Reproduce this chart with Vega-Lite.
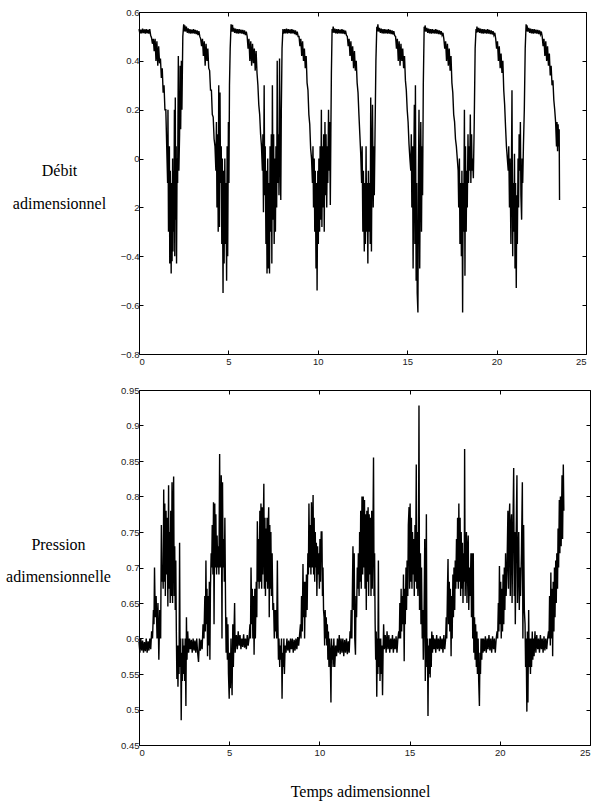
{
"$schema": "https://vega.github.io/schema/vega-lite/v6.json",
"background": "white",
"padding": {"left": 5, "top": 6, "right": 5, "bottom": 5},
"spacing": 18,
"config": {
  "view": {"stroke": "black", "strokeWidth": 1},
  "axis": {"grid": false, "domain": false, "tickColor": "black", "tickSize": -4, "labelFont": "Liberation Sans", "labelFontSize": 9.5, "labelColor": "#222", "titleFont": "Liberation Serif", "titleFontSize": 16, "titleFontWeight": "normal", "titleColor": "black"}
},
"datasets": {
"debit": [
{"t":0,"v":0.53},{"t":0.05,"v":0.512},{"t":0.1,"v":0.528},{"t":0.15,"v":0.513},{"t":0.2,"v":0.532},{"t":0.25,"v":0.514},{"t":0.3,"v":0.529},{"t":0.35,"v":0.512},{"t":0.4,"v":0.53},{"t":0.45,"v":0.513},{"t":0.5,"v":0.528},{"t":0.55,"v":0.512},{"t":0.6,"v":0.53},{"t":0.65,"v":0.505},
{"t":0.7,"v":0.495},{"t":0.75,"v":0.47},{"t":0.8,"v":0.49},{"t":0.85,"v":0.44},{"t":0.9,"v":0.49},{"t":0.95,"v":0.4},{"t":1.0,"v":0.48},{"t":1.05,"v":0.38},{"t":1.1,"v":0.46},{"t":1.15,"v":0.39},
{"t":1.2,"v":0.41},{"t":1.25,"v":0.33},{"t":1.3,"v":0.37},{"t":1.35,"v":0.27},{"t":1.4,"v":0.3},{"t":1.45,"v":0.2},{"t":1.5,"v":0.2},{"t":1.55,"v":0.05},
{"t":1.6,"v":-0.1},{"t":1.62,"v":0.2},{"t":1.65,"v":-0.3},{"t":1.7,"v":0.05},{"t":1.72,"v":-0.43},{"t":1.75,"v":-0.05},{"t":1.8,"v":-0.47},{"t":1.82,"v":-0.1},{"t":1.85,"v":-0.42},{"t":1.88,"v":0.0},{"t":1.9,"v":-0.38},{"t":1.93,"v":-0.05},{"t":1.95,"v":-0.3},{"t":1.98,"v":0.2},{"t":2.0,"v":-0.4},{"t":2.03,"v":0.25},{"t":2.05,"v":-0.25},{"t":2.08,"v":0.05},{"t":2.1,"v":-0.43},{"t":2.13,"v":0.0},{"t":2.16,"v":-0.1},{"t":2.2,"v":0.42},{"t":2.23,"v":-0.05},{"t":2.27,"v":0.1},{"t":2.3,"v":0.38},{"t":2.33,"v":0.12},{"t":2.37,"v":0.4},{"t":2.4,"v":0.2},{"t":2.45,"v":0.5},
{"t":2.5,"v":0.55},{"t":2.53,"v":0.52},{"t":2.56,"v":0.545},{"t":2.6,"v":0.52},{"t":2.65,"v":0.54},{"t":2.7,"v":0.515},{"t":2.75,"v":0.533},{"t":2.8,"v":0.513},{"t":2.85,"v":0.53},{"t":2.9,"v":0.512},{"t":2.95,"v":0.528},{"t":3.0,"v":0.513},{"t":3.05,"v":0.53},{"t":3.1,"v":0.512},{"t":3.15,"v":0.527},{"t":3.2,"v":0.51},{"t":3.25,"v":0.525},{"t":3.3,"v":0.505},{"t":3.35,"v":0.522},{"t":3.4,"v":0.5},
{"t":3.45,"v":0.49},{"t":3.5,"v":0.46},{"t":3.55,"v":0.49},{"t":3.6,"v":0.42},{"t":3.65,"v":0.48},{"t":3.7,"v":0.38},{"t":3.75,"v":0.47},{"t":3.8,"v":0.4},{"t":3.85,"v":0.45},{"t":3.9,"v":0.37},{"t":3.95,"v":0.36},{"t":4.0,"v":0.28},{"t":4.05,"v":0.28},{"t":4.1,"v":0.18},{"t":4.15,"v":0.17},{"t":4.2,"v":0.08},{"t":4.25,"v":0.05},{"t":4.3,"v":-0.05},{"t":4.33,"v":0.15},{"t":4.36,"v":-0.2},{"t":4.4,"v":0.1},{"t":4.43,"v":-0.3},{"t":4.46,"v":0.3},{"t":4.5,"v":-0.28},{"t":4.53,"v":0.27},{"t":4.56,"v":-0.1},{"t":4.6,"v":0.05},{"t":4.63,"v":-0.35},{"t":4.66,"v":0.0},{"t":4.7,"v":-0.55},{"t":4.73,"v":-0.05},{"t":4.76,"v":-0.43},{"t":4.8,"v":0.0},{"t":4.83,"v":-0.35},{"t":4.86,"v":-0.1},{"t":4.9,"v":-0.5},{"t":4.93,"v":0.05},{"t":4.96,"v":-0.4},{"t":5.0,"v":0.15},{"t":5.03,"v":-0.1},{"t":5.06,"v":0.3},{"t":5.1,"v":0.45},
{"t":5.15,"v":0.55},{"t":5.2,"v":0.52},{"t":5.23,"v":0.548},{"t":5.26,"v":0.52},{"t":5.3,"v":0.535},{"t":5.35,"v":0.515},{"t":5.4,"v":0.532},{"t":5.45,"v":0.513},{"t":5.5,"v":0.53},{"t":5.55,"v":0.512},{"t":5.6,"v":0.53},{"t":5.65,"v":0.513},{"t":5.7,"v":0.528},{"t":5.75,"v":0.512},{"t":5.8,"v":0.527},{"t":5.85,"v":0.51},{"t":5.9,"v":0.525},{"t":5.95,"v":0.505},{"t":6.0,"v":0.52},
{"t":6.05,"v":0.5},{"t":6.1,"v":0.45},{"t":6.15,"v":0.49},{"t":6.2,"v":0.4},{"t":6.25,"v":0.48},{"t":6.3,"v":0.38},{"t":6.35,"v":0.47},{"t":6.4,"v":0.39},{"t":6.45,"v":0.45},{"t":6.5,"v":0.36},{"t":6.55,"v":0.44},{"t":6.6,"v":0.35},{"t":6.65,"v":0.3},{"t":6.7,"v":0.22},{"t":6.75,"v":0.18},{"t":6.8,"v":0.1},{"t":6.85,"v":0.05},{"t":6.9,"v":-0.05},{"t":6.93,"v":0.1},{"t":6.96,"v":-0.22},{"t":7.0,"v":0.3},{"t":7.03,"v":-0.15},{"t":7.06,"v":0.05},{"t":7.1,"v":-0.35},{"t":7.13,"v":-0.05},{"t":7.16,"v":-0.47},{"t":7.2,"v":0.0},{"t":7.23,"v":-0.45},{"t":7.26,"v":-0.1},{"t":7.3,"v":-0.47},{"t":7.33,"v":0.05},{"t":7.36,"v":-0.3},{"t":7.4,"v":0.1},{"t":7.43,"v":-0.43},{"t":7.46,"v":0.3},{"t":7.5,"v":-0.25},{"t":7.53,"v":0.1},{"t":7.56,"v":-0.35},{"t":7.6,"v":0.0},{"t":7.63,"v":-0.3},{"t":7.66,"v":0.05},{"t":7.7,"v":-0.2},{"t":7.73,"v":0.4},{"t":7.76,"v":-0.1},{"t":7.8,"v":0.1},{"t":7.83,"v":-0.15},{"t":7.86,"v":0.41},{"t":7.9,"v":0.0},{"t":7.93,"v":-0.17},{"t":7.96,"v":0.2},{"t":8.0,"v":0.45},
{"t":8.05,"v":0.53},{"t":8.1,"v":0.512},{"t":8.15,"v":0.53},{"t":8.2,"v":0.513},{"t":8.25,"v":0.532},{"t":8.3,"v":0.512},{"t":8.35,"v":0.53},{"t":8.4,"v":0.514},{"t":8.45,"v":0.529},{"t":8.5,"v":0.512},{"t":8.55,"v":0.53},{"t":8.6,"v":0.513},{"t":8.65,"v":0.527},{"t":8.7,"v":0.51},{"t":8.75,"v":0.525},{"t":8.8,"v":0.505},{"t":8.85,"v":0.52},{"t":8.9,"v":0.5},
{"t":8.95,"v":0.5},{"t":9.0,"v":0.46},{"t":9.05,"v":0.49},{"t":9.1,"v":0.42},{"t":9.15,"v":0.48},{"t":9.2,"v":0.4},{"t":9.25,"v":0.45},{"t":9.3,"v":0.37},{"t":9.35,"v":0.42},{"t":9.4,"v":0.31},{"t":9.45,"v":0.28},{"t":9.5,"v":0.18},{"t":9.55,"v":0.14},{"t":9.6,"v":0.04},{"t":9.65,"v":0.0},{"t":9.7,"v":-0.1},{"t":9.73,"v":0.05},{"t":9.76,"v":-0.2},{"t":9.8,"v":0.0},{"t":9.83,"v":-0.3},{"t":9.86,"v":-0.05},{"t":9.9,"v":-0.45},{"t":9.93,"v":-0.1},{"t":9.96,"v":-0.54},{"t":10.0,"v":-0.05},{"t":10.03,"v":-0.35},{"t":10.06,"v":0.0},{"t":10.1,"v":-0.3},{"t":10.13,"v":0.05},{"t":10.16,"v":-0.25},{"t":10.2,"v":0.2},{"t":10.23,"v":-0.28},{"t":10.26,"v":0.05},{"t":10.3,"v":-0.2},{"t":10.33,"v":0.1},{"t":10.36,"v":-0.3},{"t":10.4,"v":0.15},{"t":10.43,"v":-0.15},{"t":10.46,"v":0.1},{"t":10.5,"v":-0.2},{"t":10.53,"v":0.05},{"t":10.56,"v":-0.1},{"t":10.6,"v":0.2},{"t":10.63,"v":-0.05},{"t":10.66,"v":0.15},{"t":10.7,"v":-0.19},{"t":10.73,"v":0.1},{"t":10.76,"v":0.35},
{"t":10.8,"v":0.53},{"t":10.83,"v":0.515},{"t":10.86,"v":0.54},{"t":10.9,"v":0.515},{"t":10.95,"v":0.532},{"t":11.0,"v":0.513},{"t":11.05,"v":0.53},{"t":11.1,"v":0.512},{"t":11.15,"v":0.53},{"t":11.2,"v":0.513},{"t":11.25,"v":0.528},{"t":11.3,"v":0.512},{"t":11.35,"v":0.53},{"t":11.4,"v":0.512},{"t":11.45,"v":0.527},{"t":11.5,"v":0.51},{"t":11.55,"v":0.524},{"t":11.6,"v":0.505},
{"t":11.65,"v":0.5},{"t":11.7,"v":0.46},{"t":11.75,"v":0.49},{"t":11.8,"v":0.42},{"t":11.85,"v":0.48},{"t":11.9,"v":0.4},{"t":11.95,"v":0.46},{"t":12.0,"v":0.37},{"t":12.05,"v":0.44},{"t":12.1,"v":0.36},{"t":12.15,"v":0.4},{"t":12.2,"v":0.31},{"t":12.25,"v":0.27},{"t":12.3,"v":0.18},{"t":12.35,"v":0.1},{"t":12.4,"v":0.02},{"t":12.45,"v":-0.1},{"t":12.48,"v":0.05},{"t":12.52,"v":-0.3},{"t":12.55,"v":-0.05},{"t":12.6,"v":-0.38},{"t":12.63,"v":-0.1},{"t":12.66,"v":-0.35},{"t":12.7,"v":0.05},{"t":12.73,"v":-0.3},{"t":12.76,"v":-0.1},{"t":12.8,"v":-0.43},{"t":12.83,"v":-0.05},{"t":12.86,"v":-0.3},{"t":12.9,"v":-0.1},{"t":12.93,"v":-0.35},{"t":12.96,"v":0.25},{"t":13.0,"v":-0.38},{"t":13.03,"v":0.0},{"t":13.06,"v":0.22},{"t":13.1,"v":-0.2},{"t":13.13,"v":0.05},{"t":13.16,"v":-0.15},{"t":13.2,"v":0.1},{"t":13.25,"v":0.4},
{"t":13.3,"v":0.54},{"t":13.33,"v":0.52},{"t":13.36,"v":0.55},{"t":13.4,"v":0.52},{"t":13.45,"v":0.535},{"t":13.5,"v":0.515},{"t":13.55,"v":0.532},{"t":13.6,"v":0.513},{"t":13.65,"v":0.53},{"t":13.7,"v":0.512},{"t":13.75,"v":0.53},{"t":13.8,"v":0.513},{"t":13.85,"v":0.528},{"t":13.9,"v":0.512},{"t":13.95,"v":0.53},{"t":14.0,"v":0.512},{"t":14.05,"v":0.527},{"t":14.1,"v":0.51},{"t":14.15,"v":0.525},{"t":14.2,"v":0.508},{"t":14.25,"v":0.522},{"t":14.3,"v":0.503},
{"t":14.35,"v":0.5},{"t":14.4,"v":0.45},{"t":14.45,"v":0.49},{"t":14.5,"v":0.4},{"t":14.55,"v":0.48},{"t":14.6,"v":0.38},{"t":14.65,"v":0.47},{"t":14.7,"v":0.4},{"t":14.75,"v":0.45},{"t":14.8,"v":0.37},{"t":14.85,"v":0.42},{"t":14.9,"v":0.32},{"t":14.95,"v":0.28},{"t":15.0,"v":0.2},{"t":15.05,"v":0.15},{"t":15.1,"v":0.06},{"t":15.15,"v":0.0},{"t":15.2,"v":-0.05},{"t":15.23,"v":0.1},{"t":15.26,"v":-0.2},{"t":15.3,"v":0.05},{"t":15.33,"v":-0.45},{"t":15.36,"v":-0.1},{"t":15.4,"v":0.22},{"t":15.43,"v":-0.35},{"t":15.46,"v":0.3},{"t":15.5,"v":-0.5},{"t":15.53,"v":-0.1},{"t":15.56,"v":-0.55},{"t":15.6,"v":-0.63},{"t":15.63,"v":-0.05},{"t":15.66,"v":0.2},{"t":15.7,"v":-0.45},{"t":15.73,"v":-0.1},{"t":15.76,"v":0.15},{"t":15.8,"v":-0.3},{"t":15.83,"v":0.05},{"t":15.86,"v":-0.15},{"t":15.9,"v":0.3},
{"t":15.95,"v":0.54},{"t":15.98,"v":0.52},{"t":16.0,"v":0.545},{"t":16.05,"v":0.52},{"t":16.1,"v":0.535},{"t":16.15,"v":0.515},{"t":16.2,"v":0.532},{"t":16.25,"v":0.513},{"t":16.3,"v":0.53},{"t":16.35,"v":0.512},{"t":16.4,"v":0.53},{"t":16.45,"v":0.513},{"t":16.5,"v":0.528},{"t":16.55,"v":0.512},{"t":16.6,"v":0.53},{"t":16.65,"v":0.512},{"t":16.7,"v":0.527},{"t":16.75,"v":0.51},{"t":16.8,"v":0.525},{"t":16.85,"v":0.508},{"t":16.9,"v":0.522},{"t":16.95,"v":0.505},{"t":17.0,"v":0.515},
{"t":17.05,"v":0.49},{"t":17.1,"v":0.45},{"t":17.15,"v":0.48},{"t":17.2,"v":0.4},{"t":17.25,"v":0.47},{"t":17.3,"v":0.38},{"t":17.35,"v":0.45},{"t":17.4,"v":0.36},{"t":17.45,"v":0.42},{"t":17.5,"v":0.31},{"t":17.55,"v":0.27},{"t":17.6,"v":0.18},{"t":17.65,"v":0.15},{"t":17.7,"v":0.08},{"t":17.75,"v":0.05},{"t":17.8,"v":0.0},{"t":17.85,"v":-0.05},{"t":17.88,"v":-0.2},{"t":17.92,"v":0.0},{"t":17.95,"v":-0.35},{"t":18.0,"v":-0.1},{"t":18.03,"v":-0.4},{"t":18.06,"v":-0.05},{"t":18.1,"v":-0.63},{"t":18.13,"v":-0.1},{"t":18.16,"v":-0.3},{"t":18.2,"v":0.2},{"t":18.23,"v":-0.48},{"t":18.26,"v":0.05},{"t":18.3,"v":-0.3},{"t":18.33,"v":-0.05},{"t":18.36,"v":-0.2},{"t":18.4,"v":0.1},{"t":18.43,"v":-0.1},{"t":18.46,"v":0.05},{"t":18.5,"v":-0.05},{"t":18.53,"v":0.18},{"t":18.56,"v":-0.1},{"t":18.6,"v":0.1},{"t":18.63,"v":-0.05},{"t":18.66,"v":0.0},{"t":18.7,"v":-0.08},{"t":18.75,"v":0.15},{"t":18.8,"v":0.45},
{"t":18.85,"v":0.53},{"t":18.88,"v":0.515},{"t":18.9,"v":0.54},{"t":18.95,"v":0.518},{"t":19.0,"v":0.535},{"t":19.05,"v":0.515},{"t":19.1,"v":0.532},{"t":19.15,"v":0.513},{"t":19.2,"v":0.53},{"t":19.25,"v":0.512},{"t":19.3,"v":0.53},{"t":19.35,"v":0.513},{"t":19.4,"v":0.528},{"t":19.45,"v":0.512},{"t":19.5,"v":0.53},{"t":19.55,"v":0.512},{"t":19.6,"v":0.527},{"t":19.65,"v":0.51},{"t":19.7,"v":0.525},{"t":19.75,"v":0.508},{"t":19.8,"v":0.522},{"t":19.85,"v":0.505},{"t":19.9,"v":0.515},
{"t":19.95,"v":0.49},{"t":20.0,"v":0.45},{"t":20.05,"v":0.48},{"t":20.1,"v":0.4},{"t":20.15,"v":0.46},{"t":20.2,"v":0.37},{"t":20.25,"v":0.43},{"t":20.3,"v":0.35},{"t":20.35,"v":0.4},{"t":20.4,"v":0.28},{"t":20.45,"v":0.22},{"t":20.5,"v":0.13},{"t":20.55,"v":0.05},{"t":20.6,"v":0.0},{"t":20.65,"v":-0.05},{"t":20.68,"v":0.05},{"t":20.72,"v":-0.2},{"t":20.75,"v":0.0},{"t":20.8,"v":-0.35},{"t":20.83,"v":-0.05},{"t":20.86,"v":0.28},{"t":20.9,"v":-0.4},{"t":20.93,"v":-0.1},{"t":20.96,"v":-0.3},{"t":21.0,"v":0.02},{"t":21.03,"v":-0.45},{"t":21.06,"v":-0.1},{"t":21.1,"v":-0.53},{"t":21.13,"v":-0.15},{"t":21.16,"v":-0.35},{"t":21.2,"v":0.0},{"t":21.23,"v":-0.2},{"t":21.26,"v":0.1},{"t":21.3,"v":-0.05},{"t":21.33,"v":0.15},{"t":21.36,"v":-0.15},{"t":21.4,"v":-0.25},{"t":21.43,"v":0.0},{"t":21.46,"v":-0.1},{"t":21.5,"v":0.05},{"t":21.55,"v":0.2},{"t":21.6,"v":0.45},
{"t":21.65,"v":0.55},{"t":21.68,"v":0.52},{"t":21.7,"v":0.545},{"t":21.75,"v":0.52},{"t":21.8,"v":0.535},{"t":21.85,"v":0.515},{"t":21.9,"v":0.532},{"t":21.95,"v":0.513},{"t":22.0,"v":0.53},{"t":22.05,"v":0.512},{"t":22.1,"v":0.53},{"t":22.15,"v":0.513},{"t":22.2,"v":0.528},{"t":22.25,"v":0.512},{"t":22.3,"v":0.527},{"t":22.35,"v":0.51},{"t":22.4,"v":0.525},{"t":22.45,"v":0.508},{"t":22.5,"v":0.52},
{"t":22.55,"v":0.5},{"t":22.6,"v":0.46},{"t":22.65,"v":0.49},{"t":22.7,"v":0.42},{"t":22.75,"v":0.48},{"t":22.8,"v":0.4},{"t":22.85,"v":0.46},{"t":22.9,"v":0.38},{"t":22.95,"v":0.43},{"t":23.0,"v":0.34},{"t":23.05,"v":0.38},{"t":23.1,"v":0.3},{"t":23.15,"v":0.32},{"t":23.2,"v":0.24},{"t":23.25,"v":0.2},{"t":23.3,"v":0.15},{"t":23.35,"v":0.05},{"t":23.38,"v":0.15},{"t":23.41,"v":0.03},{"t":23.44,"v":0.14},{"t":23.47,"v":0.05},{"t":23.5,"v":0.12},{"t":23.52,"v":-0.17}
],
"pression": [
{"t":0,"v":0.595},{"t":0.05,"v":0.58},{"t":0.1,"v":0.6},{"t":0.15,"v":0.583},{"t":0.2,"v":0.597},{"t":0.25,"v":0.58},{"t":0.3,"v":0.595},{"t":0.35,"v":0.582},{"t":0.4,"v":0.6},{"t":0.45,"v":0.58},{"t":0.5,"v":0.596},{"t":0.55,"v":0.583},{"t":0.6,"v":0.6},{"t":0.65,"v":0.585},{"t":0.7,"v":0.61},{"t":0.75,"v":0.6},{"t":0.8,"v":0.64},{"t":0.83,"v":0.62},{"t":0.86,"v":0.7},{"t":0.9,"v":0.63},{"t":0.95,"v":0.66},{"t":1.0,"v":0.6},{"t":1.05,"v":0.65},{"t":1.1,"v":0.57},{"t":1.15,"v":0.64},{"t":1.2,"v":0.6},
{"t":1.24,"v":0.76},{"t":1.28,"v":0.68},{"t":1.31,"v":0.7},{"t":1.34,"v":0.67},{"t":1.37,"v":0.81},{"t":1.4,"v":0.68},{"t":1.43,"v":0.79},{"t":1.46,"v":0.66},{"t":1.5,"v":0.78},{"t":1.53,"v":0.69},{"t":1.56,"v":0.77},{"t":1.6,"v":0.645},{"t":1.64,"v":0.816},{"t":1.67,"v":0.67},{"t":1.7,"v":0.75},{"t":1.73,"v":0.65},{"t":1.76,"v":0.78},{"t":1.8,"v":0.66},{"t":1.83,"v":0.82},{"t":1.86,"v":0.65},{"t":1.89,"v":0.755},{"t":1.92,"v":0.828},{"t":1.95,"v":0.66},{"t":1.98,"v":0.73},{"t":2.01,"v":0.64},{"t":2.04,"v":0.71},{"t":2.07,"v":0.61},
{"t":2.1,"v":0.543},{"t":2.13,"v":0.59},{"t":2.16,"v":0.532},{"t":2.19,"v":0.59},{"t":2.22,"v":0.55},{"t":2.25,"v":0.735},{"t":2.28,"v":0.56},{"t":2.31,"v":0.6},{"t":2.34,"v":0.485},{"t":2.37,"v":0.58},{"t":2.4,"v":0.54},{"t":2.43,"v":0.6},{"t":2.46,"v":0.55},{"t":2.5,"v":0.59},{"t":2.53,"v":0.54},{"t":2.56,"v":0.6},{"t":2.6,"v":0.505},{"t":2.63,"v":0.63},{"t":2.66,"v":0.57},{"t":2.7,"v":0.61},
{"t":2.75,"v":0.58},{"t":2.8,"v":0.6},{"t":2.85,"v":0.585},{"t":2.9,"v":0.598},{"t":2.95,"v":0.58},{"t":3.0,"v":0.6},{"t":3.05,"v":0.583},{"t":3.1,"v":0.597},{"t":3.15,"v":0.58},{"t":3.2,"v":0.6},{"t":3.25,"v":0.58},{"t":3.3,"v":0.567},{"t":3.35,"v":0.6},{"t":3.4,"v":0.583},{"t":3.45,"v":0.598},{"t":3.5,"v":0.585},
{"t":3.55,"v":0.62},{"t":3.6,"v":0.6},{"t":3.65,"v":0.66},{"t":3.68,"v":0.61},{"t":3.71,"v":0.71},{"t":3.74,"v":0.62},{"t":3.77,"v":0.67},{"t":3.8,"v":0.575},{"t":3.83,"v":0.66},{"t":3.86,"v":0.59},{"t":3.9,"v":0.68},{"t":3.93,"v":0.57},{"t":3.96,"v":0.67},
{"t":4.0,"v":0.72},{"t":4.03,"v":0.7},{"t":4.06,"v":0.76},{"t":4.1,"v":0.69},{"t":4.13,"v":0.792},{"t":4.16,"v":0.62},{"t":4.2,"v":0.79},{"t":4.23,"v":0.7},{"t":4.26,"v":0.775},{"t":4.3,"v":0.69},{"t":4.33,"v":0.745},{"t":4.36,"v":0.7},{"t":4.4,"v":0.73},{"t":4.43,"v":0.69},{"t":4.47,"v":0.86},{"t":4.5,"v":0.7},{"t":4.53,"v":0.72},{"t":4.56,"v":0.83},{"t":4.6,"v":0.6},{"t":4.63,"v":0.82},{"t":4.66,"v":0.7},{"t":4.7,"v":0.74},{"t":4.73,"v":0.68},{"t":4.76,"v":0.77},
{"t":4.8,"v":0.64},{"t":4.83,"v":0.58},{"t":4.86,"v":0.63},{"t":4.9,"v":0.57},{"t":4.93,"v":0.62},{"t":4.96,"v":0.55},{"t":5.0,"v":0.515},{"t":5.03,"v":0.58},{"t":5.06,"v":0.53},{"t":5.1,"v":0.6},{"t":5.13,"v":0.55},{"t":5.16,"v":0.52},{"t":5.2,"v":0.62},{"t":5.23,"v":0.56},{"t":5.26,"v":0.6},{"t":5.3,"v":0.65},{"t":5.33,"v":0.58},
{"t":5.4,"v":0.605},{"t":5.45,"v":0.585},{"t":5.5,"v":0.61},{"t":5.55,"v":0.59},{"t":5.6,"v":0.605},{"t":5.65,"v":0.585},{"t":5.7,"v":0.6},{"t":5.75,"v":0.588},{"t":5.8,"v":0.606},{"t":5.85,"v":0.587},{"t":5.9,"v":0.6},{"t":5.95,"v":0.585},{"t":6.0,"v":0.605},{"t":6.05,"v":0.59},{"t":6.1,"v":0.6},
{"t":6.15,"v":0.62},{"t":6.18,"v":0.6},{"t":6.21,"v":0.7},{"t":6.25,"v":0.62},{"t":6.28,"v":0.67},{"t":6.31,"v":0.6},{"t":6.35,"v":0.66},{"t":6.38,"v":0.577},{"t":6.42,"v":0.67},{"t":6.45,"v":0.6},{"t":6.5,"v":0.68},{"t":6.53,"v":0.63},
{"t":6.56,"v":0.765},{"t":6.6,"v":0.68},{"t":6.63,"v":0.74},{"t":6.66,"v":0.67},{"t":6.7,"v":0.78},{"t":6.73,"v":0.68},{"t":6.76,"v":0.79},{"t":6.8,"v":0.67},{"t":6.83,"v":0.785},{"t":6.86,"v":0.69},{"t":6.92,"v":0.818},{"t":6.95,"v":0.67},{"t":6.98,"v":0.77},{"t":7.01,"v":0.66},{"t":7.04,"v":0.755},{"t":7.07,"v":0.68},{"t":7.1,"v":0.77},{"t":7.13,"v":0.67},{"t":7.16,"v":0.75},{"t":7.19,"v":0.785},{"t":7.22,"v":0.63},{"t":7.25,"v":0.76},{"t":7.28,"v":0.67},{"t":7.31,"v":0.75},{"t":7.34,"v":0.66},{"t":7.38,"v":0.72},{"t":7.42,"v":0.64},
{"t":7.46,"v":0.65},{"t":7.5,"v":0.6},{"t":7.53,"v":0.64},{"t":7.56,"v":0.61},{"t":7.6,"v":0.64},{"t":7.63,"v":0.6},{"t":7.67,"v":0.71},{"t":7.7,"v":0.62},{"t":7.73,"v":0.57},{"t":7.76,"v":0.6},{"t":7.8,"v":0.56},{"t":7.83,"v":0.59},{"t":7.86,"v":0.57},{"t":7.9,"v":0.6},{"t":7.93,"v":0.515},{"t":7.96,"v":0.58},{"t":8.0,"v":0.56},{"t":8.03,"v":0.6},{"t":8.06,"v":0.55},{"t":8.1,"v":0.59},
{"t":8.15,"v":0.58},{"t":8.2,"v":0.6},{"t":8.25,"v":0.583},{"t":8.3,"v":0.597},{"t":8.35,"v":0.58},{"t":8.4,"v":0.6},{"t":8.45,"v":0.585},{"t":8.5,"v":0.6},{"t":8.55,"v":0.58},{"t":8.6,"v":0.598},{"t":8.65,"v":0.583},{"t":8.7,"v":0.6},{"t":8.75,"v":0.585},{"t":8.8,"v":0.602},{"t":8.85,"v":0.59},{"t":8.9,"v":0.605},
{"t":8.95,"v":0.62},{"t":8.98,"v":0.6},{"t":9.01,"v":0.66},{"t":9.05,"v":0.61},{"t":9.09,"v":0.705},{"t":9.12,"v":0.63},{"t":9.15,"v":0.68},{"t":9.18,"v":0.6},{"t":9.22,"v":0.68},{"t":9.25,"v":0.63},{"t":9.28,"v":0.69},{"t":9.32,"v":0.64},
{"t":9.36,"v":0.72},{"t":9.39,"v":0.69},{"t":9.42,"v":0.79},{"t":9.46,"v":0.7},{"t":9.5,"v":0.76},{"t":9.53,"v":0.69},{"t":9.56,"v":0.792},{"t":9.6,"v":0.7},{"t":9.65,"v":0.802},{"t":9.68,"v":0.69},{"t":9.71,"v":0.77},{"t":9.74,"v":0.68},{"t":9.77,"v":0.75},{"t":9.8,"v":0.7},{"t":9.83,"v":0.735},{"t":9.86,"v":0.66},{"t":9.9,"v":0.73},{"t":9.93,"v":0.69},{"t":9.96,"v":0.72},{"t":10.0,"v":0.67},{"t":10.03,"v":0.74},{"t":10.06,"v":0.68},{"t":10.1,"v":0.75},{"t":10.14,"v":0.75},{"t":10.17,"v":0.66},{"t":10.2,"v":0.7},{"t":10.23,"v":0.64},
{"t":10.26,"v":0.63},{"t":10.29,"v":0.59},{"t":10.32,"v":0.64},{"t":10.35,"v":0.6},{"t":10.38,"v":0.63},{"t":10.41,"v":0.59},{"t":10.44,"v":0.62},{"t":10.47,"v":0.57},{"t":10.5,"v":0.61},{"t":10.53,"v":0.56},{"t":10.56,"v":0.6},{"t":10.6,"v":0.58},{"t":10.64,"v":0.51},{"t":10.67,"v":0.6},{"t":10.7,"v":0.57},{"t":10.73,"v":0.59},{"t":10.76,"v":0.56},{"t":10.8,"v":0.6},{"t":10.85,"v":0.56},
{"t":10.9,"v":0.59},{"t":10.95,"v":0.575},{"t":11.0,"v":0.6},{"t":11.05,"v":0.58},{"t":11.1,"v":0.605},{"t":11.15,"v":0.578},{"t":11.2,"v":0.6},{"t":11.25,"v":0.58},{"t":11.3,"v":0.6},{"t":11.35,"v":0.575},{"t":11.4,"v":0.598},{"t":11.45,"v":0.58},{"t":11.5,"v":0.6},{"t":11.55,"v":0.578},{"t":11.6,"v":0.596},{"t":11.65,"v":0.58},
{"t":11.7,"v":0.61},{"t":11.73,"v":0.6},{"t":11.76,"v":0.64},{"t":11.8,"v":0.6},{"t":11.83,"v":0.67},{"t":11.86,"v":0.73},{"t":11.9,"v":0.64},{"t":11.93,"v":0.72},{"t":11.96,"v":0.6},{"t":12.0,"v":0.577},{"t":12.03,"v":0.66},{"t":12.06,"v":0.63},{"t":12.1,"v":0.7},
{"t":12.13,"v":0.67},{"t":12.16,"v":0.72},{"t":12.2,"v":0.66},{"t":12.23,"v":0.75},{"t":12.26,"v":0.68},{"t":12.29,"v":0.78},{"t":12.32,"v":0.67},{"t":12.36,"v":0.8},{"t":12.4,"v":0.69},{"t":12.43,"v":0.8},{"t":12.46,"v":0.7},{"t":12.5,"v":0.795},{"t":12.53,"v":0.67},{"t":12.56,"v":0.775},{"t":12.6,"v":0.64},{"t":12.63,"v":0.78},{"t":12.66,"v":0.68},{"t":12.7,"v":0.785},{"t":12.73,"v":0.66},{"t":12.76,"v":0.775},{"t":12.8,"v":0.69},{"t":12.83,"v":0.77},{"t":12.86,"v":0.66},{"t":12.9,"v":0.78},{"t":12.93,"v":0.67},{"t":12.97,"v":0.75},{"t":13.0,"v":0.855},{"t":13.03,"v":0.66},{"t":13.06,"v":0.72},
{"t":13.09,"v":0.62},{"t":13.12,"v":0.57},{"t":13.15,"v":0.61},{"t":13.18,"v":0.518},{"t":13.21,"v":0.6},{"t":13.24,"v":0.55},{"t":13.27,"v":0.71},{"t":13.3,"v":0.56},{"t":13.33,"v":0.6},{"t":13.36,"v":0.54},{"t":13.4,"v":0.6},{"t":13.43,"v":0.55},{"t":13.46,"v":0.59},{"t":13.5,"v":0.52},{"t":13.53,"v":0.58},{"t":13.56,"v":0.62},
{"t":13.6,"v":0.585},{"t":13.65,"v":0.605},{"t":13.7,"v":0.58},{"t":13.75,"v":0.61},{"t":13.8,"v":0.585},{"t":13.85,"v":0.605},{"t":13.9,"v":0.58},{"t":13.95,"v":0.6},{"t":14.0,"v":0.585},{"t":14.05,"v":0.605},{"t":14.1,"v":0.58},{"t":14.15,"v":0.6},{"t":14.2,"v":0.585},{"t":14.25,"v":0.603},{"t":14.3,"v":0.58},{"t":14.35,"v":0.6},
{"t":14.4,"v":0.61},{"t":14.43,"v":0.6},{"t":14.46,"v":0.65},{"t":14.5,"v":0.6},{"t":14.53,"v":0.67},{"t":14.56,"v":0.61},{"t":14.6,"v":0.66},{"t":14.63,"v":0.62},{"t":14.66,"v":0.69},{"t":14.7,"v":0.568},{"t":14.73,"v":0.67},{"t":14.76,"v":0.62},{"t":14.8,"v":0.7},{"t":14.83,"v":0.64},{"t":14.86,"v":0.71},{"t":14.9,"v":0.66},
{"t":14.93,"v":0.76},{"t":14.97,"v":0.785},{"t":15.0,"v":0.67},{"t":15.03,"v":0.79},{"t":15.06,"v":0.68},{"t":15.1,"v":0.77},{"t":15.13,"v":0.67},{"t":15.16,"v":0.75},{"t":15.2,"v":0.69},{"t":15.23,"v":0.74},{"t":15.26,"v":0.66},{"t":15.3,"v":0.76},{"t":15.33,"v":0.68},{"t":15.37,"v":0.845},{"t":15.4,"v":0.67},{"t":15.43,"v":0.75},{"t":15.46,"v":0.66},{"t":15.49,"v":0.7},{"t":15.52,"v":0.928},{"t":15.55,"v":0.64},{"t":15.6,"v":0.72},{"t":15.63,"v":0.62},{"t":15.66,"v":0.7},
{"t":15.7,"v":0.6},{"t":15.73,"v":0.64},{"t":15.76,"v":0.57},{"t":15.8,"v":0.63},{"t":15.84,"v":0.74},{"t":15.87,"v":0.54},{"t":15.9,"v":0.62},{"t":15.93,"v":0.775},{"t":15.96,"v":0.56},{"t":15.99,"v":0.6},{"t":16.02,"v":0.491},{"t":16.05,"v":0.59},{"t":16.08,"v":0.55},{"t":16.11,"v":0.6},{"t":16.14,"v":0.545},{"t":16.17,"v":0.6},{"t":16.2,"v":0.56},{"t":16.23,"v":0.61},
{"t":16.27,"v":0.58},{"t":16.3,"v":0.605},{"t":16.35,"v":0.585},{"t":16.4,"v":0.6},{"t":16.45,"v":0.58},{"t":16.5,"v":0.605},{"t":16.55,"v":0.585},{"t":16.6,"v":0.6},{"t":16.65,"v":0.582},{"t":16.7,"v":0.603},{"t":16.75,"v":0.585},{"t":16.8,"v":0.6},{"t":16.85,"v":0.58},{"t":16.9,"v":0.605},{"t":16.95,"v":0.585},
{"t":17.0,"v":0.6},{"t":17.03,"v":0.63},{"t":17.06,"v":0.6},{"t":17.1,"v":0.67},{"t":17.13,"v":0.712},{"t":17.16,"v":0.62},{"t":17.2,"v":0.68},{"t":17.23,"v":0.61},{"t":17.26,"v":0.67},{"t":17.3,"v":0.575},{"t":17.33,"v":0.66},{"t":17.36,"v":0.6},{"t":17.4,"v":0.69},{"t":17.43,"v":0.63},{"t":17.46,"v":0.7},{"t":17.5,"v":0.64},{"t":17.53,"v":0.71},
{"t":17.56,"v":0.67},{"t":17.6,"v":0.74},{"t":17.63,"v":0.68},{"t":17.66,"v":0.77},{"t":17.7,"v":0.67},{"t":17.73,"v":0.79},{"t":17.76,"v":0.68},{"t":17.8,"v":0.77},{"t":17.83,"v":0.66},{"t":17.86,"v":0.75},{"t":17.9,"v":0.67},{"t":17.93,"v":0.735},{"t":17.96,"v":0.65},{"t":18.0,"v":0.72},{"t":18.03,"v":0.68},{"t":18.05,"v":0.867},{"t":18.08,"v":0.66},{"t":18.12,"v":0.72},{"t":18.15,"v":0.75},{"t":18.18,"v":0.65},{"t":18.22,"v":0.73},{"t":18.25,"v":0.745},{"t":18.28,"v":0.64},{"t":18.32,"v":0.7},{"t":18.36,"v":0.66},{"t":18.4,"v":0.72},{"t":18.43,"v":0.63},
{"t":18.46,"v":0.72},{"t":18.5,"v":0.6},{"t":18.53,"v":0.72},{"t":18.56,"v":0.58},{"t":18.6,"v":0.63},{"t":18.63,"v":0.57},{"t":18.66,"v":0.62},{"t":18.7,"v":0.56},{"t":18.73,"v":0.61},{"t":18.76,"v":0.55},{"t":18.8,"v":0.6},{"t":18.83,"v":0.54},{"t":18.87,"v":0.505},{"t":18.9,"v":0.58},{"t":18.93,"v":0.55},{"t":18.96,"v":0.6},{"t":19.0,"v":0.57},{"t":19.03,"v":0.6},
{"t":19.07,"v":0.58},{"t":19.1,"v":0.6},{"t":19.15,"v":0.582},{"t":19.2,"v":0.603},{"t":19.25,"v":0.58},{"t":19.3,"v":0.6},{"t":19.35,"v":0.585},{"t":19.4,"v":0.605},{"t":19.45,"v":0.583},{"t":19.5,"v":0.6},{"t":19.55,"v":0.58},{"t":19.6,"v":0.603},{"t":19.65,"v":0.585},{"t":19.7,"v":0.6},{"t":19.75,"v":0.58},{"t":19.8,"v":0.6},
{"t":19.85,"v":0.61},{"t":19.88,"v":0.6},{"t":19.92,"v":0.65},{"t":19.95,"v":0.61},{"t":19.98,"v":0.702},{"t":20.02,"v":0.62},{"t":20.05,"v":0.68},{"t":20.08,"v":0.6},{"t":20.12,"v":0.67},{"t":20.15,"v":0.61},{"t":20.18,"v":0.69},{"t":20.22,"v":0.62},{"t":20.25,"v":0.7},{"t":20.28,"v":0.64},{"t":20.32,"v":0.72},{"t":20.35,"v":0.66},
{"t":20.4,"v":0.7},{"t":20.45,"v":0.78},{"t":20.48,"v":0.67},{"t":20.52,"v":0.77},{"t":20.55,"v":0.79},{"t":20.58,"v":0.66},{"t":20.62,"v":0.76},{"t":20.65,"v":0.775},{"t":20.68,"v":0.65},{"t":20.72,"v":0.74},{"t":20.77,"v":0.84},{"t":20.8,"v":0.66},{"t":20.83,"v":0.75},{"t":20.86,"v":0.62},{"t":20.9,"v":0.73},{"t":20.95,"v":0.83},{"t":20.98,"v":0.65},{"t":21.02,"v":0.72},{"t":21.05,"v":0.75},{"t":21.08,"v":0.64},{"t":21.12,"v":0.7},{"t":21.15,"v":0.66},{"t":21.2,"v":0.72},{"t":21.25,"v":0.82},{"t":21.28,"v":0.6},{"t":21.32,"v":0.76},{"t":21.36,"v":0.64},
{"t":21.4,"v":0.62},{"t":21.43,"v":0.56},{"t":21.46,"v":0.6},{"t":21.5,"v":0.497},{"t":21.53,"v":0.61},{"t":21.56,"v":0.51},{"t":21.6,"v":0.64},{"t":21.63,"v":0.56},{"t":21.66,"v":0.6},{"t":21.7,"v":0.55},{"t":21.73,"v":0.6},{"t":21.76,"v":0.56},{"t":21.8,"v":0.61},{"t":21.83,"v":0.57},{"t":21.86,"v":0.6},{"t":21.9,"v":0.575},{"t":21.95,"v":0.61},
{"t":22.0,"v":0.58},{"t":22.05,"v":0.605},{"t":22.1,"v":0.585},{"t":22.15,"v":0.6},{"t":22.2,"v":0.58},{"t":22.25,"v":0.605},{"t":22.3,"v":0.585},{"t":22.35,"v":0.6},{"t":22.4,"v":0.58},{"t":22.45,"v":0.603},{"t":22.5,"v":0.583},{"t":22.55,"v":0.6},{"t":22.6,"v":0.585},{"t":22.65,"v":0.6},
{"t":22.7,"v":0.61},{"t":22.73,"v":0.6},{"t":22.76,"v":0.66},{"t":22.8,"v":0.59},{"t":22.83,"v":0.693},{"t":22.86,"v":0.6},{"t":22.9,"v":0.67},{"t":22.93,"v":0.575},{"t":22.96,"v":0.68},{"t":23.0,"v":0.61},{"t":23.03,"v":0.7},{"t":23.06,"v":0.63},{"t":23.1,"v":0.71},{"t":23.13,"v":0.65},{"t":23.16,"v":0.72},{"t":23.2,"v":0.67},
{"t":23.23,"v":0.755},{"t":23.26,"v":0.7},{"t":23.3,"v":0.795},{"t":23.33,"v":0.72},{"t":23.36,"v":0.8},{"t":23.4,"v":0.73},{"t":23.45,"v":0.83},{"t":23.48,"v":0.74},{"t":23.52,"v":0.845},{"t":23.55,"v":0.78}
]
},
"vconcat": [
{
  "width": 447, "height": 342,
  "data": {"name": "debit"},
  "layer": [
    {
      "mark": {"type": "line", "color": "black", "strokeWidth": 1.4},
      "encoding": {
        "x": {"field": "t", "type": "quantitative", "scale": {"domain": [0, 25], "nice": false}, "axis": {"values": [0, 5, 10, 15, 20, 25], "title": null, "labelPadding": 6}},
        "y": {"field": "v", "type": "quantitative", "scale": {"domain": [-0.8, 0.6], "nice": false, "zero": false}, "axis": {"values": [-0.8, -0.6, -0.4, -0.2, 0, 0.2, 0.4, 0.6], "format": "~g", "labelExpr": "datum.value == -0.2 ? '2' : datum.label", "labelPadding": 4, "title": ["Débit", "adimensionnel"], "titleAngle": 0, "titleAlign": "center", "titleBaseline": "middle", "titleX": -80, "titleY": 158, "titleLineHeight": 33}}
      }
    },
    {
      "mark": {"type": "line", "strokeOpacity": 0},
      "encoding": {
        "x": {"field": "t", "type": "quantitative", "axis": {"orient": "top", "values": [0, 5, 10, 15, 20, 25], "labels": false, "title": null}},
        "y": {"field": "v", "type": "quantitative", "axis": {"orient": "right", "values": [-0.8, -0.6, -0.4, -0.2, 0, 0.2, 0.4, 0.6], "labels": false, "title": null}}
      }
    }
  ],
  "resolve": {"axis": {"x": "independent", "y": "independent"}}
},
{
  "width": 451, "height": 355,
  "data": {"name": "pression"},
  "layer": [
    {
      "mark": {"type": "line", "color": "black", "strokeWidth": 1.4},
      "encoding": {
        "x": {"field": "t", "type": "quantitative", "scale": {"domain": [0, 25], "nice": false}, "axis": {"values": [0, 5, 10, 15, 20, 25], "labelPadding": 6, "title": "Temps adimensionnel", "titleX": 221, "titleY": 46, "titleBaseline": "middle", "titleAlign": "center"}},
        "y": {"field": "v", "type": "quantitative", "scale": {"domain": [0.45, 0.95], "nice": false, "zero": false}, "axis": {"values": [0.45, 0.5, 0.55, 0.6, 0.65, 0.7, 0.75, 0.8, 0.85, 0.9, 0.95], "format": "~g", "labelPadding": 4, "title": ["Pression", "adimensionnelle"], "titleAngle": 0, "titleAlign": "center", "titleBaseline": "middle", "titleX": -81, "titleY": 154, "titleLineHeight": 32}}
      }
    },
    {
      "mark": {"type": "line", "strokeOpacity": 0},
      "encoding": {
        "x": {"field": "t", "type": "quantitative", "axis": {"orient": "top", "values": [0, 5, 10, 15, 20, 25], "labels": false, "title": null}},
        "y": {"field": "v", "type": "quantitative", "axis": {"orient": "right", "values": [0.45, 0.5, 0.55, 0.6, 0.65, 0.7, 0.75, 0.8, 0.85, 0.9, 0.95], "labels": false, "title": null}}
      }
    }
  ],
  "resolve": {"axis": {"x": "independent", "y": "independent"}}
}
]
}
